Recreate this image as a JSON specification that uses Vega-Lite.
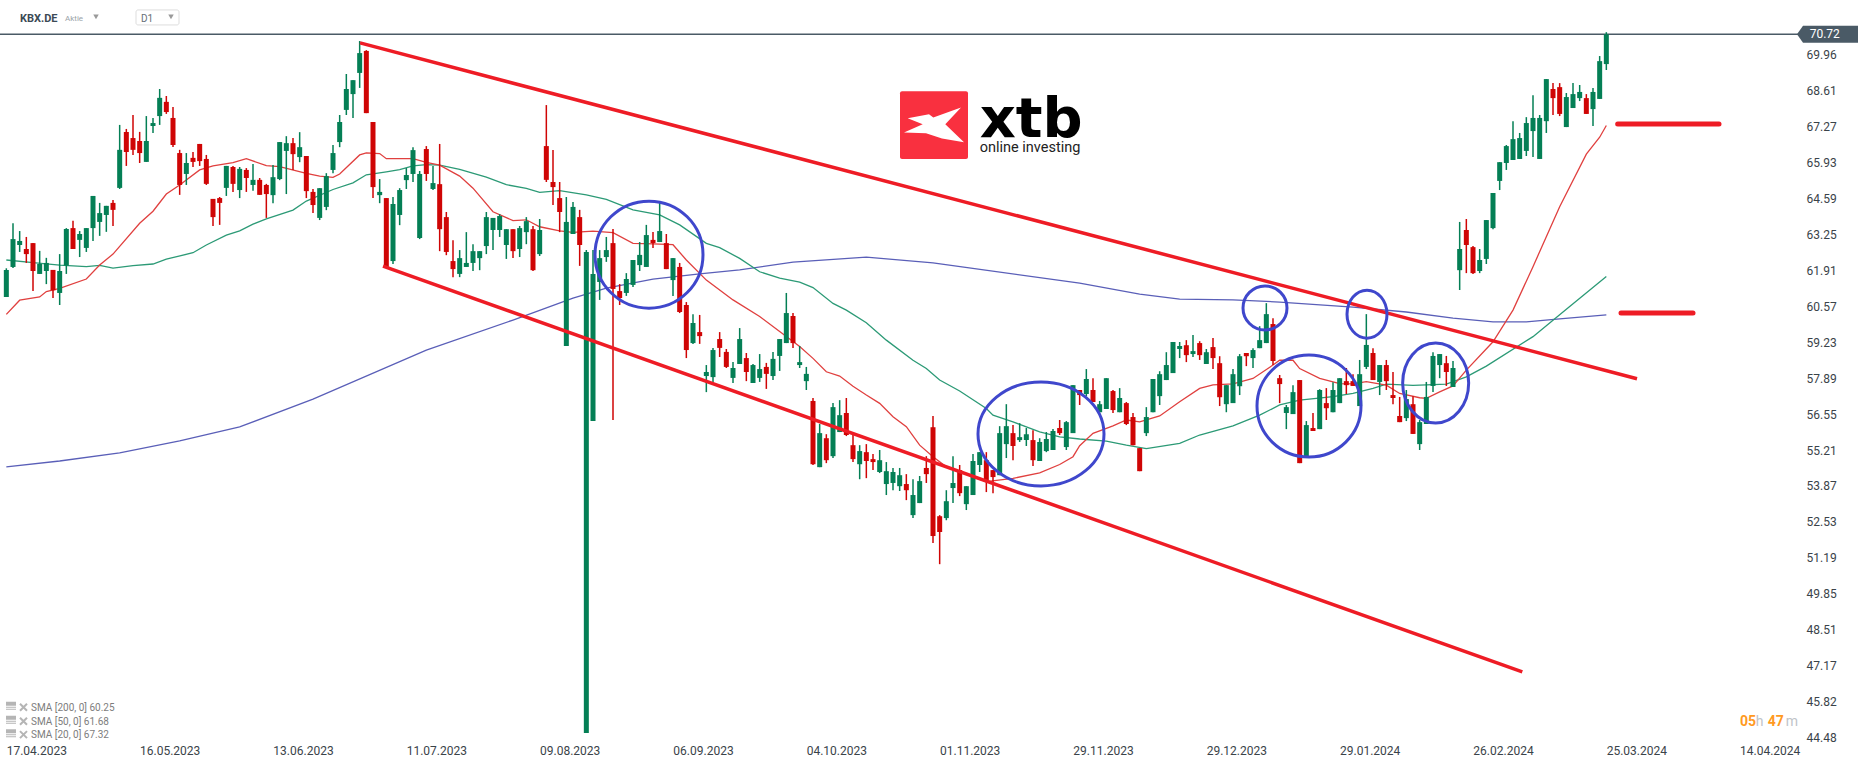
{
  "$schema": "https://vega.github.io/schema/vega-lite/v6.json",
  "description": "KBX.DE daily candles with SMA 20/50/200, trend channel and marked zones",
  "width": 1800,
  "height": 745,
  "padding": {"left": 0, "top": 0, "right": 66, "bottom": 22},
  "autosize": {"type": "none"},
  "background": "#ffffff",
  "config": {"view": {"stroke": null}},
  "datasets": {
    "candles": [
      {"bar":0,"open":60.92,"high":61.99,"low":60.92,"close":61.93},
      {"bar":1,"open":62.04,"high":63.67,"low":62.00,"close":63.08},
      {"bar":2,"open":62.86,"high":63.38,"low":62.60,"close":63.01},
      {"bar":3,"open":62.71,"high":63.16,"low":62.19,"close":62.52},
      {"bar":4,"open":62.93,"high":62.93,"low":61.14,"close":61.89},
      {"bar":5,"open":61.78,"high":62.64,"low":61.78,"close":62.15},
      {"bar":6,"open":61.89,"high":62.38,"low":61.40,"close":62.19},
      {"bar":7,"open":61.93,"high":61.93,"low":60.88,"close":61.17},
      {"bar":8,"open":61.07,"high":62.52,"low":60.62,"close":61.89},
      {"bar":9,"open":62.09,"high":63.49,"low":61.78,"close":63.46},
      {"bar":10,"open":63.49,"high":63.76,"low":62.71,"close":62.71},
      {"bar":11,"open":63.05,"high":63.38,"low":62.41,"close":63.27},
      {"bar":12,"open":62.75,"high":63.49,"low":62.60,"close":63.49},
      {"bar":13,"open":63.49,"high":64.69,"low":63.01,"close":64.69},
      {"bar":14,"open":63.72,"high":64.43,"low":63.20,"close":64.05},
      {"bar":15,"open":63.98,"high":64.32,"low":63.35,"close":64.32},
      {"bar":16,"open":64.43,"high":64.54,"low":63.57,"close":64.17},
      {"bar":17,"open":64.99,"high":67.34,"low":64.95,"close":66.41},
      {"bar":18,"open":67.08,"high":67.19,"low":65.81,"close":66.33},
      {"bar":19,"open":66.85,"high":67.71,"low":66.22,"close":66.41},
      {"bar":20,"open":66.74,"high":67.08,"low":65.92,"close":66.29},
      {"bar":21,"open":65.96,"high":67.67,"low":65.96,"close":66.74},
      {"bar":22,"open":67.30,"high":67.60,"low":67.04,"close":67.41},
      {"bar":23,"open":67.67,"high":68.68,"low":67.34,"close":68.35},
      {"bar":24,"open":68.20,"high":68.42,"low":67.75,"close":67.82},
      {"bar":25,"open":67.60,"high":68.01,"low":66.52,"close":66.59},
      {"bar":26,"open":66.29,"high":66.41,"low":64.73,"close":65.10},
      {"bar":27,"open":65.51,"high":66.29,"low":65.10,"close":65.92},
      {"bar":28,"open":66.11,"high":66.33,"low":65.77,"close":65.96},
      {"bar":29,"open":66.63,"high":66.63,"low":65.81,"close":65.99},
      {"bar":30,"open":66.07,"high":66.22,"low":65.10,"close":65.14},
      {"bar":31,"open":64.58,"high":64.58,"low":63.57,"close":63.90},
      {"bar":32,"open":64.61,"high":64.65,"low":63.61,"close":64.43},
      {"bar":33,"open":64.99,"high":65.81,"low":64.69,"close":65.81},
      {"bar":34,"open":65.77,"high":65.81,"low":64.84,"close":65.14},
      {"bar":35,"open":64.91,"high":65.77,"low":64.61,"close":65.70},
      {"bar":36,"open":65.66,"high":65.73,"low":64.84,"close":65.36},
      {"bar":37,"open":65.10,"high":65.88,"low":64.88,"close":65.29},
      {"bar":38,"open":65.29,"high":65.36,"low":64.73,"close":64.73},
      {"bar":39,"open":65.10,"high":65.14,"low":63.87,"close":64.76},
      {"bar":40,"open":64.72,"high":65.84,"low":64.42,"close":65.39},
      {"bar":41,"open":65.32,"high":66.70,"low":65.28,"close":66.70},
      {"bar":42,"open":66.37,"high":66.92,"low":64.76,"close":66.66},
      {"bar":43,"open":66.66,"high":66.85,"low":65.66,"close":66.25},
      {"bar":44,"open":66.14,"high":67.07,"low":65.95,"close":66.51},
      {"bar":45,"open":66.18,"high":66.18,"low":64.61,"close":64.87},
      {"bar":46,"open":64.84,"high":64.95,"low":64.05,"close":64.35},
      {"bar":47,"open":63.87,"high":64.98,"low":63.79,"close":64.98},
      {"bar":48,"open":64.28,"high":65.54,"low":64.16,"close":65.43},
      {"bar":49,"open":65.66,"high":66.59,"low":65.54,"close":66.29},
      {"bar":50,"open":66.70,"high":67.71,"low":66.51,"close":67.45},
      {"bar":51,"open":67.90,"high":69.24,"low":67.71,"close":68.68},
      {"bar":52,"open":68.49,"high":69.01,"low":67.60,"close":69.01},
      {"bar":53,"open":69.28,"high":70.47,"low":68.72,"close":70.02},
      {"bar":54,"open":70.10,"high":70.13,"low":67.78,"close":67.78},
      {"bar":55,"open":67.45,"high":67.45,"low":64.61,"close":65.02},
      {"bar":56,"open":64.72,"high":65.32,"low":64.42,"close":64.84},
      {"bar":57,"open":64.61,"high":64.61,"low":62.04,"close":62.04},
      {"bar":58,"open":62.26,"high":64.65,"low":62.15,"close":64.39},
      {"bar":59,"open":63.98,"high":64.98,"low":63.60,"close":64.91},
      {"bar":60,"open":65.28,"high":65.73,"low":64.95,"close":65.47},
      {"bar":61,"open":65.51,"high":66.51,"low":65.21,"close":66.40},
      {"bar":62,"open":63.12,"high":65.62,"low":63.08,"close":65.51},
      {"bar":63,"open":66.44,"high":66.55,"low":65.25,"close":65.51},
      {"bar":64,"open":64.95,"high":65.81,"low":64.91,"close":65.17},
      {"bar":65,"open":65.13,"high":66.63,"low":62.63,"close":63.45},
      {"bar":66,"open":63.90,"high":64.09,"low":62.48,"close":62.60},
      {"bar":67,"open":62.26,"high":63.04,"low":61.66,"close":61.96},
      {"bar":68,"open":61.78,"high":62.67,"low":61.66,"close":62.37},
      {"bar":69,"open":62.04,"high":63.34,"low":62.04,"close":62.19},
      {"bar":70,"open":62.19,"high":62.89,"low":61.89,"close":62.63},
      {"bar":71,"open":62.37,"high":62.63,"low":61.92,"close":62.63},
      {"bar":72,"open":62.82,"high":64.09,"low":62.52,"close":63.90},
      {"bar":73,"open":63.42,"high":63.87,"low":62.67,"close":63.87},
      {"bar":74,"open":63.42,"high":64.01,"low":63.16,"close":63.94},
      {"bar":75,"open":62.86,"high":63.45,"low":62.34,"close":63.45},
      {"bar":76,"open":63.45,"high":63.45,"low":62.37,"close":62.63},
      {"bar":77,"open":62.71,"high":63.57,"low":62.41,"close":63.49},
      {"bar":78,"open":63.34,"high":63.90,"low":62.89,"close":63.75},
      {"bar":79,"open":63.45,"high":63.57,"low":61.89,"close":61.92},
      {"bar":80,"open":62.52,"high":63.83,"low":62.45,"close":63.42},
      {"bar":81,"open":66.55,"high":68.08,"low":65.21,"close":65.29},
      {"bar":82,"open":65.21,"high":66.40,"low":64.35,"close":65.02},
      {"bar":83,"open":64.61,"high":65.21,"low":63.34,"close":64.09},
      {"bar":84,"open":59.09,"high":64.65,"low":59.09,"close":63.72},
      {"bar":85,"open":63.27,"high":64.46,"low":63.27,"close":64.28},
      {"bar":86,"open":63.90,"high":64.17,"low":62.08,"close":62.86},
      {"bar":87,"open":44.65,"high":62.67,"low":44.65,"close":62.60},
      {"bar":88,"open":56.29,"high":62.67,"low":56.29,"close":61.78},
      {"bar":89,"open":61.48,"high":62.67,"low":60.81,"close":62.37},
      {"bar":90,"open":62.41,"high":63.16,"low":62.23,"close":62.67},
      {"bar":91,"open":62.93,"high":63.46,"low":56.33,"close":61.22},
      {"bar":92,"open":61.14,"high":61.40,"low":60.62,"close":60.88},
      {"bar":93,"open":61.07,"high":61.81,"low":60.96,"close":61.59},
      {"bar":94,"open":61.37,"high":62.30,"low":61.29,"close":62.30},
      {"bar":95,"open":62.11,"high":62.97,"low":61.89,"close":62.49},
      {"bar":96,"open":62.04,"high":63.61,"low":62.04,"close":63.23},
      {"bar":97,"open":63.05,"high":63.34,"low":62.75,"close":62.93},
      {"bar":98,"open":62.97,"high":64.43,"low":62.97,"close":63.38},
      {"bar":99,"open":62.93,"high":63.27,"low":61.96,"close":61.96},
      {"bar":100,"open":61.55,"high":62.37,"low":60.96,"close":62.37},
      {"bar":101,"open":62.04,"high":62.19,"low":60.32,"close":60.36},
      {"bar":102,"open":60.62,"high":60.73,"low":58.64,"close":58.94},
      {"bar":103,"open":59.20,"high":60.28,"low":59.17,"close":59.95},
      {"bar":104,"open":59.61,"high":60.25,"low":59.17,"close":59.46},
      {"bar":105,"open":57.97,"high":58.38,"low":57.37,"close":58.12},
      {"bar":106,"open":57.93,"high":59.02,"low":57.75,"close":58.94},
      {"bar":107,"open":59.35,"high":59.61,"low":58.68,"close":59.02},
      {"bar":108,"open":58.87,"high":58.98,"low":58.27,"close":58.31},
      {"bar":109,"open":57.90,"high":58.49,"low":57.71,"close":58.27},
      {"bar":110,"open":58.42,"high":59.76,"low":58.42,"close":59.35},
      {"bar":111,"open":58.64,"high":58.83,"low":57.78,"close":58.12},
      {"bar":112,"open":57.71,"high":58.42,"low":57.71,"close":58.38},
      {"bar":113,"open":57.90,"high":58.79,"low":57.75,"close":58.23},
      {"bar":114,"open":58.31,"high":58.46,"low":57.49,"close":58.05},
      {"bar":115,"open":57.97,"high":58.87,"low":57.82,"close":58.61},
      {"bar":116,"open":58.72,"high":59.35,"low":58.16,"close":59.35},
      {"bar":117,"open":59.20,"high":61.07,"low":59.20,"close":60.32},
      {"bar":118,"open":60.21,"high":60.32,"low":59.02,"close":59.20},
      {"bar":119,"open":58.38,"high":59.09,"low":58.27,"close":58.49},
      {"bar":120,"open":57.78,"high":58.31,"low":57.45,"close":58.05},
      {"bar":121,"open":57.04,"high":57.15,"low":54.65,"close":54.68},
      {"bar":122,"open":54.57,"high":56.18,"low":54.57,"close":55.84},
      {"bar":123,"open":55.65,"high":55.80,"low":54.72,"close":54.83},
      {"bar":124,"open":54.98,"high":56.96,"low":54.91,"close":56.81},
      {"bar":125,"open":55.88,"high":57.07,"low":55.88,"close":56.51},
      {"bar":126,"open":56.59,"high":57.15,"low":55.73,"close":55.77},
      {"bar":127,"open":55.39,"high":55.77,"low":54.76,"close":54.87},
      {"bar":128,"open":54.68,"high":55.39,"low":54.12,"close":55.17},
      {"bar":129,"open":55.13,"high":55.43,"low":54.16,"close":54.80},
      {"bar":130,"open":54.87,"high":55.06,"low":54.46,"close":54.76},
      {"bar":131,"open":54.39,"high":55.21,"low":54.35,"close":54.83},
      {"bar":132,"open":53.94,"high":54.76,"low":53.53,"close":54.42},
      {"bar":133,"open":53.98,"high":54.54,"low":53.71,"close":54.39},
      {"bar":134,"open":53.86,"high":54.54,"low":53.68,"close":54.27},
      {"bar":135,"open":53.94,"high":54.31,"low":53.34,"close":53.71},
      {"bar":136,"open":52.78,"high":54.12,"low":52.67,"close":53.53},
      {"bar":137,"open":53.23,"high":54.24,"low":53.23,"close":54.05},
      {"bar":138,"open":54.54,"high":54.98,"low":53.98,"close":54.31},
      {"bar":139,"open":56.06,"high":56.48,"low":51.74,"close":52.00},
      {"bar":140,"open":52.74,"high":52.78,"low":50.95,"close":52.15},
      {"bar":141,"open":52.67,"high":53.71,"low":52.59,"close":53.30},
      {"bar":142,"open":53.79,"high":54.98,"low":53.23,"close":53.98},
      {"bar":143,"open":54.46,"high":54.65,"low":53.49,"close":53.60},
      {"bar":144,"open":53.19,"high":53.86,"low":52.97,"close":53.86},
      {"bar":145,"open":53.53,"high":55.06,"low":53.53,"close":54.80},
      {"bar":146,"open":54.65,"high":55.13,"low":54.39,"close":55.13},
      {"bar":147,"open":54.83,"high":55.13,"low":53.64,"close":54.09},
      {"bar":148,"open":54.46,"high":54.46,"low":53.60,"close":54.20},
      {"bar":149,"open":54.27,"high":56.10,"low":54.27,"close":55.84},
      {"bar":150,"open":55.43,"high":56.92,"low":54.91,"close":56.10},
      {"bar":151,"open":55.84,"high":56.14,"low":54.83,"close":55.36},
      {"bar":152,"open":55.58,"high":56.21,"low":55.51,"close":55.69},
      {"bar":153,"open":55.58,"high":56.03,"low":55.36,"close":55.80},
      {"bar":154,"open":55.58,"high":55.95,"low":54.61,"close":54.83},
      {"bar":155,"open":54.80,"high":55.65,"low":54.80,"close":55.51},
      {"bar":156,"open":55.17,"high":55.88,"low":55.13,"close":55.62},
      {"bar":157,"open":55.21,"high":55.99,"low":55.21,"close":55.92},
      {"bar":158,"open":56.03,"high":56.33,"low":55.77,"close":55.84},
      {"bar":159,"open":55.32,"high":56.29,"low":55.21,"close":56.25},
      {"bar":160,"open":55.84,"high":57.63,"low":55.84,"close":57.63},
      {"bar":161,"open":57.45,"high":57.45,"low":56.89,"close":57.26},
      {"bar":162,"open":57.30,"high":58.23,"low":57.22,"close":57.86},
      {"bar":163,"open":57.45,"high":57.89,"low":57.00,"close":57.00},
      {"bar":164,"open":56.62,"high":57.04,"low":56.62,"close":56.92},
      {"bar":165,"open":56.74,"high":57.89,"low":56.74,"close":57.89},
      {"bar":166,"open":57.41,"high":57.45,"low":56.59,"close":56.70},
      {"bar":167,"open":56.62,"high":57.52,"low":56.62,"close":57.15},
      {"bar":168,"open":56.96,"high":57.00,"low":56.14,"close":56.18},
      {"bar":169,"open":56.44,"high":56.59,"low":55.39,"close":55.39},
      {"bar":170,"open":55.28,"high":55.28,"low":54.42,"close":54.42},
      {"bar":171,"open":55.84,"high":56.81,"low":55.73,"close":56.44},
      {"bar":172,"open":56.62,"high":57.86,"low":56.62,"close":57.86},
      {"bar":173,"open":57.22,"high":58.15,"low":56.89,"close":58.04},
      {"bar":174,"open":57.82,"high":58.86,"low":57.82,"close":58.38},
      {"bar":175,"open":58.08,"high":59.24,"low":58.08,"close":59.24},
      {"bar":176,"open":58.98,"high":59.24,"low":58.64,"close":59.09},
      {"bar":177,"open":59.12,"high":59.31,"low":58.49,"close":58.75},
      {"bar":178,"open":58.79,"high":59.50,"low":58.68,"close":58.90},
      {"bar":179,"open":59.20,"high":59.27,"low":58.57,"close":58.75},
      {"bar":180,"open":58.42,"high":58.98,"low":58.42,"close":58.86},
      {"bar":181,"open":59.05,"high":59.39,"low":58.23,"close":58.64},
      {"bar":182,"open":58.45,"high":58.71,"low":56.85,"close":57.18},
      {"bar":183,"open":56.92,"high":57.63,"low":56.62,"close":57.63},
      {"bar":184,"open":56.96,"high":58.23,"low":56.96,"close":58.04},
      {"bar":185,"open":57.59,"high":58.79,"low":57.26,"close":58.71},
      {"bar":186,"open":58.83,"high":58.83,"low":58.34,"close":58.71},
      {"bar":187,"open":58.64,"high":59.01,"low":58.27,"close":58.94},
      {"bar":188,"open":59.01,"high":59.83,"low":59.01,"close":59.31},
      {"bar":189,"open":59.20,"high":60.69,"low":59.20,"close":60.28},
      {"bar":190,"open":59.91,"high":60.13,"low":58.38,"close":58.53},
      {"bar":191,"open":57.89,"high":58.01,"low":56.96,"close":57.67},
      {"bar":192,"open":56.59,"high":56.89,"low":55.99,"close":56.81},
      {"bar":193,"open":56.55,"high":57.63,"low":56.55,"close":57.37},
      {"bar":194,"open":57.82,"high":57.82,"low":54.72,"close":54.72},
      {"bar":195,"open":54.95,"high":56.29,"low":54.95,"close":56.14},
      {"bar":196,"open":56.03,"high":56.59,"low":55.92,"close":55.92},
      {"bar":197,"open":55.99,"high":57.48,"low":55.99,"close":57.45},
      {"bar":198,"open":56.96,"high":57.52,"low":56.33,"close":56.77},
      {"bar":199,"open":56.62,"high":57.74,"low":56.62,"close":57.45},
      {"bar":200,"open":56.96,"high":57.89,"low":56.96,"close":57.89},
      {"bar":201,"open":57.78,"high":58.27,"low":57.30,"close":57.63},
      {"bar":202,"open":57.78,"high":58.04,"low":57.60,"close":57.60},
      {"bar":203,"open":56.85,"high":58.57,"low":56.85,"close":58.04},
      {"bar":204,"open":58.31,"high":60.28,"low":58.23,"close":59.13},
      {"bar":205,"open":58.83,"high":59.01,"low":57.82,"close":57.82},
      {"bar":206,"open":57.75,"high":58.38,"low":57.26,"close":58.38},
      {"bar":207,"open":58.38,"high":58.57,"low":57.45,"close":57.78},
      {"bar":208,"open":57.26,"high":58.12,"low":56.92,"close":57.15},
      {"bar":209,"open":56.48,"high":57.19,"low":56.25,"close":56.25},
      {"bar":210,"open":56.40,"high":57.45,"low":56.29,"close":57.11},
      {"bar":211,"open":56.92,"high":57.22,"low":55.81,"close":55.81},
      {"bar":212,"open":55.43,"high":56.33,"low":55.21,"close":56.25},
      {"bar":213,"open":56.18,"high":57.75,"low":56.18,"close":57.19},
      {"bar":214,"open":57.60,"high":58.86,"low":57.37,"close":58.72},
      {"bar":215,"open":58.38,"high":58.79,"low":57.89,"close":58.79},
      {"bar":216,"open":58.45,"high":58.72,"low":57.60,"close":58.12},
      {"bar":217,"open":57.56,"high":58.53,"low":57.56,"close":58.27},
      {"bar":218,"open":61.92,"high":63.72,"low":61.18,"close":62.71},
      {"bar":219,"open":63.42,"high":63.83,"low":61.81,"close":62.86},
      {"bar":220,"open":62.78,"high":62.82,"low":61.78,"close":61.81},
      {"bar":221,"open":61.89,"high":62.71,"low":61.81,"close":62.30},
      {"bar":222,"open":62.34,"high":63.79,"low":62.15,"close":63.79},
      {"bar":223,"open":63.49,"high":64.80,"low":63.45,"close":64.80},
      {"bar":224,"open":65.25,"high":65.95,"low":64.91,"close":65.95},
      {"bar":225,"open":65.92,"high":66.59,"low":65.66,"close":66.55},
      {"bar":226,"open":66.03,"high":67.48,"low":66.03,"close":66.81},
      {"bar":227,"open":66.07,"high":67.04,"low":66.07,"close":66.85},
      {"bar":228,"open":66.37,"high":67.63,"low":66.18,"close":67.41},
      {"bar":229,"open":67.11,"high":68.45,"low":66.14,"close":67.60},
      {"bar":230,"open":66.07,"high":67.71,"low":66.07,"close":67.60},
      {"bar":231,"open":67.48,"high":69.05,"low":67.04,"close":69.05},
      {"bar":232,"open":68.68,"high":68.90,"low":67.71,"close":68.34},
      {"bar":233,"open":68.75,"high":68.90,"low":67.67,"close":67.75},
      {"bar":234,"open":67.26,"high":68.53,"low":67.26,"close":68.38},
      {"bar":235,"open":67.97,"high":68.90,"low":67.97,"close":68.49},
      {"bar":236,"open":68.34,"high":68.83,"low":68.23,"close":68.57},
      {"bar":237,"open":68.34,"high":68.49,"low":67.75,"close":67.75},
      {"bar":238,"open":67.93,"high":68.72,"low":67.30,"close":68.57},
      {"bar":239,"open":68.31,"high":69.91,"low":68.31,"close":69.72},
      {"bar":240,"open":69.61,"high":70.80,"low":69.39,"close":70.72}
    ],
    "sma20": [
      {"bar":0,"price":60.27},{"bar":2,"price":60.80},{"bar":5,"price":60.92},{"bar":6,"price":61.12},{"bar":8,"price":61.24},
      {"bar":12,"price":61.59},{"bar":14,"price":62.11},{"bar":16,"price":62.52},{"bar":20,"price":63.67},{"bar":22,"price":64.12},
      {"bar":24,"price":64.76},{"bar":26,"price":65.10},{"bar":29,"price":65.66},{"bar":31,"price":65.81},{"bar":34,"price":65.93},
      {"bar":36,"price":66.08},{"bar":39,"price":65.82},{"bar":41,"price":65.78},{"bar":45,"price":65.53},{"bar":47,"price":65.43},
      {"bar":49,"price":65.38},{"bar":50,"price":65.51},{"bar":53,"price":66.22},{"bar":54,"price":66.30},{"bar":56,"price":66.27},
      {"bar":57,"price":66.08},{"bar":61,"price":66.08},{"bar":63,"price":65.94},{"bar":65,"price":65.84},{"bar":68,"price":65.43},
      {"bar":70,"price":64.98},{"bar":73,"price":64.10},{"bar":76,"price":63.77},{"bar":78,"price":63.80},{"bar":80,"price":63.54},
      {"bar":83,"price":63.39},{"bar":85,"price":63.33},{"bar":88,"price":63.38},{"bar":91,"price":63.32},{"bar":94,"price":62.92},
      {"bar":97,"price":62.90},{"bar":100,"price":62.87},{"bar":102,"price":62.30},{"bar":105,"price":61.55},{"bar":109,"price":60.81},
      {"bar":113,"price":60.19},{"bar":116,"price":59.63},{"bar":119,"price":59.07},{"bar":121,"price":58.63},{"bar":123,"price":58.13},
      {"bar":125,"price":57.97},{"bar":127,"price":57.59},{"bar":129,"price":57.26},{"bar":131,"price":56.95},{"bar":133,"price":56.45},
      {"bar":135,"price":56.08},{"bar":137,"price":55.39},{"bar":139,"price":54.96},{"bar":141,"price":54.58},{"bar":145,"price":54.21},
      {"bar":147,"price":54.03},{"bar":151,"price":54.15},{"bar":155,"price":54.36},{"bar":158,"price":54.67},{"bar":160,"price":54.96},
      {"bar":161,"price":55.37},{"bar":163,"price":55.83},{"bar":166,"price":56.11},{"bar":168,"price":56.33},{"bar":170,"price":56.26},
      {"bar":173,"price":56.48},{"bar":176,"price":57.01},{"bar":179,"price":57.51},{"bar":181,"price":57.64},{"bar":184,"price":57.68},
      {"bar":187,"price":57.88},{"bar":190,"price":58.38},{"bar":191,"price":58.56},{"bar":193,"price":58.56},{"bar":194,"price":58.25},
      {"bar":197,"price":57.88},{"bar":200,"price":57.69},{"bar":202,"price":57.68},{"bar":204,"price":57.76},{"bar":207,"price":57.63},
      {"bar":209,"price":57.32},{"bar":212,"price":57.16},{"bar":213,"price":57.14},{"bar":215,"price":57.38},{"bar":217,"price":57.60},
      {"bar":219,"price":58.19},{"bar":223,"price":59.25},{"bar":226,"price":60.43},{"bar":229,"price":62.05},{"bar":233,"price":64.29},
      {"bar":237,"price":66.25},{"bar":239,"price":66.88},{"bar":240,"price":67.32}
    ],
    "sma50": [
      {"bar":0,"price":62.30},{"bar":4,"price":62.20},{"bar":8,"price":62.11},{"bar":12,"price":62.05},{"bar":14,"price":62.10},
      {"bar":16,"price":62.00},{"bar":19,"price":62.09},{"bar":22,"price":62.15},{"bar":24,"price":62.33},{"bar":28,"price":62.57},
      {"bar":30,"price":62.86},{"bar":33,"price":63.23},{"bar":35,"price":63.39},{"bar":37,"price":63.64},{"bar":39,"price":63.83},
      {"bar":43,"price":64.16},{"bar":45,"price":64.50},{"bar":49,"price":64.93},{"bar":52,"price":65.18},{"bar":54,"price":65.48},
      {"bar":57,"price":65.59},{"bar":59,"price":65.67},{"bar":61,"price":65.81},{"bar":63,"price":65.86},{"bar":65,"price":65.84},
      {"bar":68,"price":65.68},{"bar":72,"price":65.39},{"bar":75,"price":65.11},{"bar":78,"price":64.97},{"bar":80,"price":64.82},
      {"bar":83,"price":64.89},{"bar":87,"price":64.73},{"bar":90,"price":64.56},{"bar":94,"price":64.17},{"bar":98,"price":63.98},
      {"bar":101,"price":63.61},{"bar":105,"price":62.92},{"bar":107,"price":62.76},{"bar":110,"price":62.36},{"bar":113,"price":61.86},
      {"bar":116,"price":61.62},{"bar":119,"price":61.47},{"bar":121,"price":61.27},{"bar":124,"price":60.68},{"bar":126,"price":60.43},
      {"bar":129,"price":59.96},{"bar":132,"price":59.31},{"bar":136,"price":58.56},{"bar":138,"price":58.25},{"bar":140,"price":57.82},
      {"bar":143,"price":57.41},{"bar":147,"price":56.76},{"bar":148,"price":56.51},{"bar":151,"price":56.26},{"bar":155,"price":55.89},
      {"bar":158,"price":55.70},{"bar":161,"price":55.62},{"bar":165,"price":55.54},{"bar":168,"price":55.39},{"bar":171,"price":55.26},
      {"bar":176,"price":55.46},{"bar":179,"price":55.77},{"bar":184,"price":56.11},{"bar":188,"price":56.51},{"bar":191,"price":56.89},
      {"bar":194,"price":57.07},{"bar":199,"price":57.20},{"bar":202,"price":57.32},{"bar":205,"price":57.51},{"bar":207,"price":57.67},
      {"bar":211,"price":57.62},{"bar":216,"price":57.67},{"bar":219,"price":57.94},{"bar":222,"price":58.34},{"bar":229,"price":59.44},
      {"bar":234,"price":60.46},{"bar":240,"price":61.68}
    ],
    "sma200": [
      {"bar":0,"price":54.58},{"bar":8,"price":54.80},{"bar":17,"price":55.10},{"bar":26,"price":55.55},{"bar":35,"price":56.07},
      {"bar":46,"price":57.11},{"bar":63,"price":58.94},{"bar":76,"price":60.06},{"bar":85,"price":60.88},{"bar":90,"price":61.25},
      {"bar":97,"price":61.59},{"bar":104,"price":61.78},{"bar":110,"price":61.93},{"bar":118,"price":62.22},{"bar":129,"price":62.41},
      {"bar":139,"price":62.19},{"bar":161,"price":61.44},{"bar":170,"price":61.03},{"bar":176,"price":60.84},{"bar":184,"price":60.81},
      {"bar":191,"price":60.73},{"bar":202,"price":60.54},{"bar":210,"price":60.36},{"bar":217,"price":60.13},{"bar":223,"price":59.99},
      {"bar":228,"price":59.99},{"bar":233,"price":60.10},{"bar":240,"price":60.25}
    ],
    "channel": [
      {"side":"upper","bar":53.05,"price":70.40},{"side":"upper","bar":244.6,"price":57.87},
      {"side":"lower","bar":56.5,"price":62.07},{"side":"lower","bar":227.4,"price":46.93}
    ],
    "levels": [
      {"level":"resistance","bar":241.7,"price":67.37},{"level":"resistance","bar":256.9,"price":67.37},
      {"level":"support","bar":242.2,"price":60.32},{"level":"support","bar":253,"price":60.32}
    ],
    "loops": [
      {"loop":"a","bar":96.4,"price":62.50},
      {"loop":"b","bar":155.2,"price":55.81},
      {"loop":"c","bar":195.4,"price":56.85},
      {"loop":"d","bar":188.8,"price":60.51},
      {"loop":"e","bar":204.1,"price":60.28},
      {"loop":"f","bar":214.4,"price":57.71}
    ],
    "smaLegend": [
      {"bar":3.7,"price":45.59,"label":"SMA [200, 0] 60.25"},
      {"bar":3.7,"price":45.07,"label":"SMA [50, 0] 61.68"},
      {"bar":3.7,"price":44.57,"label":"SMA [20, 0] 67.32"}
    ]
  },
  "encoding": {
    "x": {
      "field": "bar",
      "type": "quantitative",
      "scale": {"domain": [-0.95, 269.05], "nice": false, "zero": false, "padding": 0},
      "axis": {
        "title": null,
        "grid": false,
        "domain": false,
        "ticks": false,
        "labelFont": "Roboto",
        "labelFontSize": 12,
        "labelColor": "#3a4349",
        "labelPadding": 0,
        "labelFlush": false,
        "labelOverlap": false,
        "labelBound": false,
        "values": [4.5, 24.5, 44.5, 64.5, 84.5, 104.5, 124.5, 144.5, 164.5, 184.5, 204.5, 224.5, 244.5, 264.5],
        "labelExpr": "['17.04.2023','16.05.2023','13.06.2023','11.07.2023','09.08.2023','06.09.2023','04.10.2023','01.11.2023','29.11.2023','29.12.2023','29.01.2024','26.02.2024','25.03.2024','14.04.2024'][round((datum.value-4.5)/20)]"
      }
    },
    "y": {
      "field": "price",
      "type": "quantitative",
      "scale": {"domain": [44.203, 72.001], "nice": false, "zero": false, "padding": 0},
      "axis": {
        "title": null,
        "orient": "right",
        "grid": false,
        "domain": false,
        "ticks": false,
        "labelFont": "Roboto",
        "labelFontSize": 12,
        "labelColor": "#3a4349",
        "labelPadding": 6,
        "labelOverlap": false,
        "labelFlush": false,
        "labelBound": false,
        "format": ".2f",
        "values": [69.96, 68.61, 67.27, 65.93, 64.59, 63.25, 61.91, 60.57, 59.23, 57.89, 56.55, 55.21, 53.87, 52.53, 51.19, 49.85, 48.51, 47.17, 45.82, 44.48]
      }
    }
  },
  "layer": [
    {
      "data": {"values": [{"price": 70.72}]},
      "mark": {"type": "rule", "stroke": "#4a5a66", "strokeWidth": 1.5},
      "encoding": {"x": {"value": 0}, "x2": {"value": 1800}}
    },
    {
      "data": {"name": "sma200"},
      "mark": {"type": "line", "stroke": "#5a5fb8", "strokeWidth": 1.3}
    },
    {
      "data": {"name": "sma50"},
      "mark": {"type": "line", "stroke": "#2c9a76", "strokeWidth": 1.3}
    },
    {
      "data": {"name": "sma20"},
      "mark": {"type": "line", "stroke": "#e0403f", "strokeWidth": 1.3}
    },
    {
      "data": {"name": "candles"},
      "mark": {"type": "rule", "strokeWidth": 1.5},
      "encoding": {
        "y": {"field": "low", "type": "quantitative"},
        "y2": {"field": "high"},
        "color": {"condition": {"test": "datum.close >= datum.open", "value": "#047f55"}, "value": "#cf0505"}
      }
    },
    {
      "data": {"name": "candles"},
      "mark": {"type": "bar", "size": 5},
      "encoding": {
        "y": {"field": "open", "type": "quantitative"},
        "y2": {"field": "close"},
        "color": {"condition": {"test": "datum.close >= datum.open", "value": "#047f55"}, "value": "#cf0505"}
      }
    },
    {
      "data": {"name": "channel"},
      "mark": {"type": "line", "stroke": "#ee1c25", "strokeWidth": 3.5},
      "encoding": {"detail": {"field": "side"}}
    },
    {
      "data": {"name": "levels"},
      "mark": {"type": "line", "stroke": "#ee1c25", "strokeWidth": 5, "strokeCap": "round"},
      "encoding": {"detail": {"field": "level"}}
    },
    {
      "data": {"name": "loops"},
      "mark": {"type": "point", "size": 4, "filled": false, "stroke": "#3f47cc", "strokeWidth": 3, "opacity": 1},
      "encoding": {
        "shape": {
          "field": "loop",
          "type": "nominal",
          "legend": null,
          "scale": {
            "domain": ["a", "b", "c", "d", "e", "f"],
            "range": [
              "M-54,0A54,53.5 0 1,1 54,0A54,53.5 0 1,1 -54,0Z",
              "M-63,0A63,52 0 1,1 63,0A63,52 0 1,1 -63,0Z",
              "M-52,0A52,51 0 1,1 52,0A52,51 0 1,1 -52,0Z",
              "M-22,0A22,22 0 1,1 22,0A22,22 0 1,1 -22,0Z",
              "M-20,0A20,24 0 1,1 20,0A20,24 0 1,1 -20,0Z",
              "M-33,0A33,40 0 1,1 33,0A33,40 0 1,1 -33,0Z"
            ]
          }
        }
      }
    },
    {
      "data": {"values": [{"bar": 134.05, "bar2": 144.25, "price": 68.60, "price2": 66.07}]},
      "mark": {"type": "rect", "fill": "#f9303f", "cornerRadius": 2},
      "encoding": {
        "x2": {"field": "bar2"},
        "y2": {"field": "price2"}
      }
    },
    {
      "data": {"values": [{"bar": 139.15, "price": 67.34}]},
      "mark": {
        "type": "point",
        "size": 4,
        "filled": true,
        "fill": "#ffffff",
        "opacity": 1,
        "shape": "M-26.3,-6.7L-5,-10.7L-0.7,-7.3L27,-17.3L11.3,-0.7L30,17.3L8,13.7L-8,8.3L-30,7.7L-11.3,-0.7Z"
      }
    },
    {
      "data": {"values": [{"bar": 146, "price": 66.89, "label": "xtb"}]},
      "mark": {"type": "text", "font": "DejaVu Sans", "fontWeight": "bold", "fontSize": 56, "align": "left", "baseline": "alphabetic", "color": "#000000"},
      "encoding": {"text": {"field": "label"}}
    },
    {
      "data": {"values": [{"bar": 146, "price": 66.33, "label": "online investing"}]},
      "mark": {"type": "text", "font": "Roboto", "fontSize": 14.5, "align": "left", "baseline": "alphabetic", "color": "#222222"},
      "encoding": {"text": {"field": "label"}}
    },
    {
      "data": {"values": [{"bar": 268.6, "price": 70.72}]},
      "mark": {"type": "point", "size": 4, "filled": true, "fill": "#4a5a66", "opacity": 1, "shape": "M0,0L6,-8.5H61V8.5H6Z"}
    },
    {
      "data": {"values": [{"bar": 270.5, "price": 70.72, "label": "70.72"}]},
      "mark": {"type": "text", "font": "Roboto", "fontSize": 12, "align": "left", "baseline": "middle", "color": "#ffffff"},
      "encoding": {"text": {"field": "label"}}
    },
    {
      "data": {"values": [{"bar": 2.05, "price": 71.29, "label": "KBX.DE"}]},
      "mark": {"type": "text", "font": "Roboto", "fontSize": 11, "fontWeight": "bold", "align": "left", "baseline": "middle", "color": "#3c4a55"},
      "encoding": {"text": {"field": "label"}}
    },
    {
      "data": {"values": [{"bar": 8.8, "price": 71.29, "label": "Aktie"}]},
      "mark": {"type": "text", "font": "Roboto", "fontSize": 8, "align": "left", "baseline": "middle", "color": "#9aa3a8"},
      "encoding": {"text": {"field": "label"}}
    },
    {
      "data": {"values": [{"bar": 19.45, "bar2": 25.9, "price": 71.63, "price2": 71.07}]},
      "mark": {"type": "rect", "fill": "#ffffff", "stroke": "#dddddd", "strokeWidth": 1, "cornerRadius": 2},
      "encoding": {"x2": {"field": "bar2"}, "y2": {"field": "price2"}}
    },
    {
      "data": {"values": [{"bar": 20.2, "price": 71.29, "label": "D1"}]},
      "mark": {"type": "text", "font": "Roboto", "fontSize": 10, "align": "left", "baseline": "middle", "color": "#667077"},
      "encoding": {"text": {"field": "label"}}
    },
    {
      "data": {"values": [{"bar": 13.45, "price": 71.37}, {"bar": 24.7, "price": 71.37}]},
      "mark": {"type": "point", "shape": "triangle-down", "size": 30, "filled": true, "fill": "#9a9a9a", "opacity": 1}
    },
    {
      "data": {"name": "smaLegend"},
      "mark": {"type": "text", "font": "Roboto", "fontSize": 10, "align": "left", "baseline": "middle", "color": "#7d7d7d"},
      "encoding": {"text": {"field": "label"}}
    },
    {
      "data": {"name": "smaLegend"},
      "mark": {"type": "point", "size": 4, "filled": true, "fill": "#b5b5b5", "opacity": 1, "shape": "M-25,-6h10v4h-10zM-25,-1h10v1h-10zM-25,1h10v1h-10z"}
    },
    {
      "data": {"name": "smaLegend"},
      "mark": {"type": "point", "size": 4, "filled": false, "stroke": "#b5b5b5", "strokeWidth": 2, "opacity": 1, "shape": "M-11,-4L-4,3M-4,-4L-11,3"}
    },
    {
      "data": {"values": [{"bar": 260.05, "price": 45.06, "label": "05"}, {"bar": 264.2, "price": 45.06, "label": "47"}]},
      "mark": {"type": "text", "font": "Roboto", "fontSize": 14, "fontWeight": "bold", "align": "left", "baseline": "middle", "color": "#ff9a1f"},
      "encoding": {"text": {"field": "label"}}
    },
    {
      "data": {"values": [{"bar": 262.4, "price": 45.06, "label": "h"}, {"bar": 266.9, "price": 45.06, "label": "m"}]},
      "mark": {"type": "text", "font": "Roboto", "fontSize": 14, "align": "left", "baseline": "middle", "color": "#c0c4c8"},
      "encoding": {"text": {"field": "label"}}
    }
  ]
}
